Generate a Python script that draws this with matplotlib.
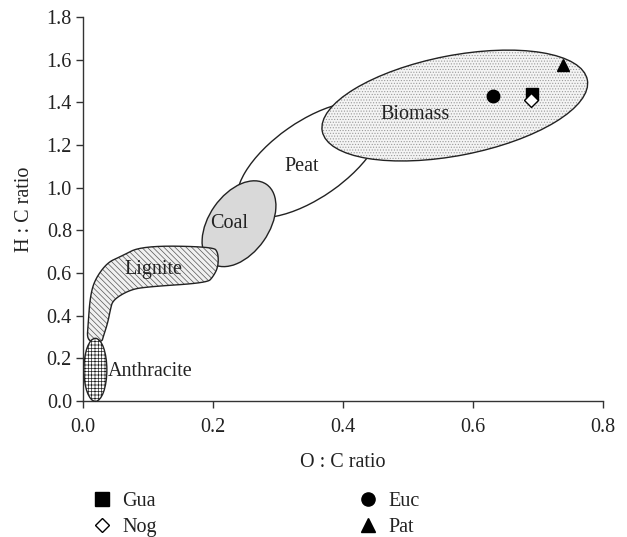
import numpy as np
import matplotlib
matplotlib.use("Agg")
import matplotlib.pyplot as plt
from matplotlib.patches import Ellipse, Polygon
from matplotlib.transforms import ScaledTranslation
from matplotlib.lines import Line2D

plt.rcParams['font.family'] = ['Liberation Serif', 'DejaVu Serif']
plt.rcParams['hatch.linewidth'] = 0.5

# Sample points (O:C, H:C)
samples = ["Gua", "Nog", "Euc", "Pat"]
oc_ratio = [0.691, 0.690, 0.631, 0.738]
hc_ratio = [1.437, 1.412, 1.432, 1.573]
markers = ["s", "D", "o", "^"]

# Fuel regions: centre (O:C, H:C) in data, size in inches, angle in degrees
region_names = ["Peat", "Biomass", "Coal", "Anthracite"]
region_center_x = [0.349, 0.572, 0.240, 0.019]
region_center_y = [1.131, 1.385, 0.831, 0.146]
region_width_in = [1.70, 2.70, 0.96, 0.23]
region_height_in = [0.76, 1.00, 0.60, 0.63]
region_angle = [35, 11, 55, 0]

# Lignite outline (O:C, H:C)
lignite_x = [0.091, 0.200, 0.208, 0.208, 0.200, 0.191, 0.098, 0.072, 0.046,
             0.042, 0.038, 0.031, 0.029, 0.006, 0.008, 0.011, 0.018, 0.037, 0.057]
lignite_y = [0.728, 0.723, 0.695, 0.629, 0.582, 0.554, 0.535, 0.521, 0.474,
             0.427, 0.366, 0.300, 0.277, 0.277, 0.366, 0.488, 0.568, 0.648, 0.676]

# Region labels
label_text = ["Biomass", "Peat", "Coal", "Lignite", "Anthracite"]
label_x = [0.511, 0.337, 0.225, 0.108, 0.038]
label_y = [1.343, 1.099, 0.831, 0.615, 0.140]
label_ha = ["center", "center", "center", "center", "left"]

FS = 14.5

fig = plt.figure(figsize=(6.27, 5.37), dpi=100)
ax = fig.add_axes([0.1324, 0.2533, 0.9617 - 0.1324, 0.9683 - 0.2533])
ax.set_xlim(0, 0.8)
ax.set_ylim(0, 1.8)


def region_ellipse(i, **kw):
    tr = fig.dpi_scale_trans + ScaledTranslation(region_center_x[i], region_center_y[i], ax.transData)
    return Ellipse((0, 0), region_width_in[i], region_height_in[i], angle=region_angle[i],
                   transform=tr, clip_on=False, **kw)


def chaikin(x, y, n=3):
    pts = np.column_stack([x, y])
    for _ in range(n):
        nxt = np.roll(pts, -1, axis=0)
        q = 0.75 * pts + 0.25 * nxt
        r = 0.25 * pts + 0.75 * nxt
        pts = np.empty((2 * len(q), 2))
        pts[0::2] = q
        pts[1::2] = r
    return pts

edge = "#222222"
# Peat
ax.add_patch(region_ellipse(0, facecolor="white", edgecolor=edge, lw=1.0, zorder=1))
# Biomass: dotted fill then outline
ax.add_patch(region_ellipse(1, facecolor="#f4f4f4", edgecolor="#9a9a9a", lw=0, hatch="......", zorder=2))
ax.add_patch(region_ellipse(1, facecolor="none", edgecolor=edge, lw=1.0, zorder=2.1))
# Coal
ax.add_patch(region_ellipse(2, facecolor="#d9d9d9", edgecolor=edge, lw=1.0, zorder=3))
# Lignite
lig = chaikin(lignite_x, lignite_y)
ax.add_patch(Polygon(lig, closed=True, facecolor="#f0f0f0", edgecolor="#555555", lw=0,
                     hatch="\\\\\\\\\\\\", zorder=4))
ax.add_patch(Polygon(lig, closed=True, facecolor="none", edgecolor=edge, lw=1.0, zorder=4.1))
# Anthracite
ax.add_patch(region_ellipse(3, facecolor="white", edgecolor="#222222", lw=0, hatch="+++++", zorder=5))
ax.add_patch(region_ellipse(3, facecolor="none", edgecolor=edge, lw=1.0, zorder=5.1))

for t, x, y, ha in zip(label_text, label_x, label_y, label_ha):
    ax.text(x, y, t, ha=ha, va="center", fontsize=FS, color="#222222", zorder=10)

# Sample points
msizes = [9, 7.5, 9, 9]
leg_sizes = [9.5, 7, 9.5, 9.5]
handles = []
for name, x, y, m, ms, ls in zip(samples, oc_ratio, hc_ratio, markers, msizes, leg_sizes):
    fc = "white" if m == "D" else "black"
    ax.plot([x], [y], linestyle="none", marker=m, markersize=ms, markerfacecolor=fc,
            markeredgecolor="black", markeredgewidth=1.0, zorder=12)
    handles.append(Line2D([], [], linestyle="none", marker=m, markersize=ls,
                          markerfacecolor=fc, markeredgecolor="black", markeredgewidth=1.0, label=name))

ax.spines["top"].set_visible(False)
ax.spines["right"].set_visible(False)
for s in ["left", "bottom"]:
    ax.spines[s].set_color("#333333")
    ax.spines[s].set_linewidth(1.0)
ax.set_xticks([0.0, 0.2, 0.4, 0.6, 0.8])
ax.set_yticks([0.0, 0.2, 0.4, 0.6, 0.8, 1.0, 1.2, 1.4, 1.6, 1.8])
ax.xaxis.set_major_formatter(matplotlib.ticker.FormatStrFormatter("%.1f"))
ax.yaxis.set_major_formatter(matplotlib.ticker.FormatStrFormatter("%.1f"))
ax.tick_params(direction="out", length=5, width=1.0, color="#333333", labelsize=FS,
               labelcolor="#222222")
ax.tick_params(axis="y", pad=3)
ax.tick_params(axis="x", pad=7)
ax.set_xlabel("O : C ratio", fontsize=FS, color="#222222", labelpad=12)
ax.set_ylabel("H : C ratio", fontsize=FS, color="#222222", labelpad=9)

fig.legend(handles=handles, loc="upper left", bbox_to_anchor=(92 / 627, 1 - 492 / 537), ncol=2,
           frameon=False, fontsize=FS, handlelength=1.0, handletextpad=0.5,
           borderpad=0, borderaxespad=0,
           columnspacing=10.0, labelspacing=0.35, labelcolor="#222222")

fig.savefig("out.png", dpi=100)
